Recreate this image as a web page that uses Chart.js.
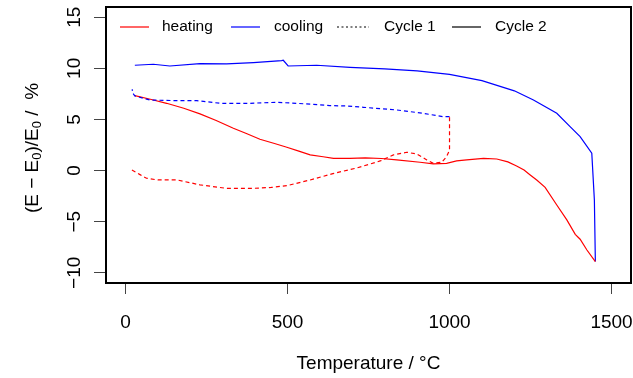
<!DOCTYPE html>
<html>
<head>
<meta charset="utf-8">
<script src="https://cdn.jsdelivr.net/npm/chart.js@4/dist/chart.umd.min.js"></script>
<style>
  html, body { margin: 0; padding: 0; background: #fff; }
  #wrap { width: 633px; height: 378px; }
</style>
</head>
<body>
<div id="wrap"><canvas id="chart" width="633" height="378"></canvas></div>
<script>
// Cycle 1, heating (red dashed)
var heating1T = [20, 45, 65, 100, 160, 230, 312, 395, 450, 498, 570, 640, 693, 714, 786, 827, 868, 899, 930, 950, 976, 991, 1000, 1000];
var heating1E = [0.05, -0.4, -0.75, -0.92, -0.92, -1.4, -1.74, -1.74, -1.65, -1.48, -0.92, -0.3, 0.1, 0.25, 0.94, 1.53, 1.79, 1.62, 1.04, 0.71, 0.81, 1.36, 2.0, 5.27];

// Cycle 1, cooling (blue dashed)
var cooling1T = [1000, 981, 919, 837, 734, 683, 631, 580, 467, 384, 292, 220, 158, 76, 29, 22, 21];
var cooling1E = [5.27, 5.27, 5.6, 5.93, 6.19, 6.32, 6.35, 6.48, 6.68, 6.58, 6.58, 6.84, 6.84, 6.9, 7.3, 7.6, 7.95];

// Cycle 2, heating (red solid)
var heating2T = [29, 80, 127, 180, 230, 280, 333, 375, 415, 460, 498, 535, 570, 610, 642, 693, 740, 790, 837, 909, 950, 991, 1022, 1053, 1105, 1146, 1180, 1207, 1230, 1249, 1270, 1295, 1331, 1362, 1388, 1403, 1424, 1450];
var heating2E = [7.33, 6.95, 6.58, 6.1, 5.54, 4.9, 4.14, 3.6, 3.06, 2.65, 2.28, 1.9, 1.53, 1.35, 1.2, 1.2, 1.25, 1.18, 1.04, 0.81, 0.65, 0.71, 0.94, 1.04, 1.2, 1.13, 0.85, 0.45, 0.05, -0.43, -0.95, -1.64, -3.37, -4.83, -6.24, -6.72, -7.77, -8.9];

// Cycle 2, cooling (blue solid)
var cooling2T = [1450, 1447, 1439, 1403, 1372, 1331, 1259, 1200, 1100, 1000, 900, 800, 693, 590, 502, 487, 482, 395, 312, 230, 137, 86, 29];
var cooling2E = [-8.9, -2.88, 1.69, 3.32, 4.3, 5.6, 6.9, 7.8, 8.8, 9.4, 9.75, 9.95, 10.1, 10.3, 10.23, 10.79, 10.75, 10.56, 10.43, 10.46, 10.23, 10.4, 10.3];

// axis ticks
var xTicks = [0, 500, 1000, 1500];
var yTicks = [-10, -5, 0, 5, 10, 15];

var FONT = '"Liberation Sans", Arial, Helvetica, sans-serif';

function pairs(xs, ys) {
    var out = [];
    for (var i = 0; i < xs.length; i++) {
        out.push({ x: xs[i], y: ys[i] });
    }
    return out;
}

function fmt(v) {
    return v < 0 ? '\u2212' + Math.abs(v) : String(v);
}

// box, tick labels, titles and legend, R style
var rStyle = {
    id: 'rStyle',
    afterDraw: function(chart) {
        var ctx = chart.ctx;
        var a = chart.chartArea;
        var xs = chart.scales.x;
        var ys = chart.scales.y;

        ctx.save();
        ctx.strokeStyle = '#000';
        ctx.lineWidth = 2;
        ctx.strokeRect(a.left, a.top, a.right - a.left, a.bottom - a.top);

        ctx.fillStyle = '#000';
        ctx.font = '19px ' + FONT;
        ctx.textAlign = 'center';
        ctx.textBaseline = 'middle';

        // x tick labels
        xTicks.forEach(function(v) {
            ctx.fillText(fmt(v), xs.getPixelForValue(v), 323);
        });

        // y tick labels, rotated
        yTicks.forEach(function(v) {
            ctx.save();
            ctx.translate(75, ys.getPixelForValue(v));
            ctx.rotate(-Math.PI / 2);
            ctx.fillText(fmt(v), 0, 0);
            ctx.restore();
        });

        // x title
        ctx.fillText('Temperature / \u00b0C', (a.left + a.right) / 2, 364);

        // y title with subscripts
        var parts = [
            ['(E \u2212 E', false], ['0', true], [')/E', false], ['0', true], [' /  %', false]
        ];
        var big = '19px ' + FONT, small = '13px ' + FONT;
        var total = 0;
        parts.forEach(function(p) {
            ctx.font = p[1] ? small : big;
            total += ctx.measureText(p[0]).width;
        });
        ctx.save();
        ctx.translate(31, (a.top + a.bottom) / 2 + 3);
        ctx.rotate(-Math.PI / 2);
        ctx.textAlign = 'left';
        ctx.textBaseline = 'alphabetic';
        var cx = -total / 2;
        parts.forEach(function(p) {
            ctx.font = p[1] ? small : big;
            ctx.fillText(p[0], cx, p[1] ? 10 : 7);
            cx += ctx.measureText(p[0]).width;
        });
        ctx.restore();
        ctx.restore();

        // legend
        var items = [
            { label: 'heating', stroke: 'rgb(255,0,0)', dash: [], x0: 120, x1: 149, tx: 162 },
            { label: 'cooling', stroke: 'rgb(0,0,255)', dash: [], x0: 231, x1: 260, tx: 274 },
            { label: 'Cycle 1', stroke: 'rgb(0,0,0)', dash: [2, 2.5], x0: 337, x1: 369, tx: 384 },
            { label: 'Cycle 2', stroke: 'rgb(0,0,0)', dash: [], x0: 452, x1: 481, tx: 495 }
        ];
        var ly = 27;
        items.forEach(function(it) {
            ctx.save();
            ctx.lineWidth = 1.2;
            ctx.setLineDash(it.dash);
            ctx.strokeStyle = it.stroke;
            ctx.beginPath();
            ctx.moveTo(it.x0, ly);
            ctx.lineTo(it.x1, ly);
            ctx.stroke();
            ctx.restore();

            ctx.save();
            ctx.font = '15.5px ' + FONT;
            ctx.textAlign = 'left';
            ctx.textBaseline = 'middle';
            ctx.fillStyle = '#000';
            ctx.fillText(it.label, it.tx, ly);
            ctx.restore();
        });
    }
};

var lineBase = { borderWidth: 1.2, pointRadius: 0, tension: 0, fill: false };

new Chart(document.getElementById('chart').getContext('2d'), {
    type: 'line',
    data: {
        datasets: [
            Object.assign({ label: 'Cycle 1 heating', data: pairs(heating1T, heating1E), borderColor: '#ff0000', borderDash: [4, 3] }, lineBase),
            Object.assign({ label: 'Cycle 1 cooling', data: pairs(cooling1T, cooling1E), borderColor: '#0000ff', borderDash: [4, 3] }, lineBase),
            Object.assign({ label: 'Cycle 2 heating', data: pairs(heating2T, heating2E), borderColor: '#ff0000' }, lineBase),
            Object.assign({ label: 'Cycle 2 cooling', data: pairs(cooling2T, cooling2E), borderColor: '#0000ff' }, lineBase)
        ]
    },
    options: {
        responsive: false,
        animation: false,
        layout: { padding: { top: 7, right: 2, left: 0, bottom: 0 } },
        plugins: { legend: { display: false }, tooltip: { enabled: false } },
        scales: {
            x: {
                type: 'linear',
                min: -60,
                max: 1560,
                afterBuildTicks: function(scale) {
                    scale.ticks = xTicks.map(function(v) { return { value: v }; });
                },
                afterFit: function(scale) { scale.height = 95; },
                ticks: { display: false },
                border: { display: false },
                grid: { drawOnChartArea: false, drawTicks: true, tickLength: 11, color: '#444', lineWidth: 1 }
            },
            y: {
                type: 'linear',
                min: -11,
                max: 16,
                afterBuildTicks: function(scale) {
                    scale.ticks = yTicks.map(function(v) { return { value: v }; });
                },
                afterFit: function(scale) { scale.width = 106; },
                ticks: { display: false },
                border: { display: false },
                grid: { drawOnChartArea: false, drawTicks: true, tickLength: 12, color: '#444', lineWidth: 1 }
            }
        }
    },
    plugins: [rStyle]
});
</script>
</body>
</html>
